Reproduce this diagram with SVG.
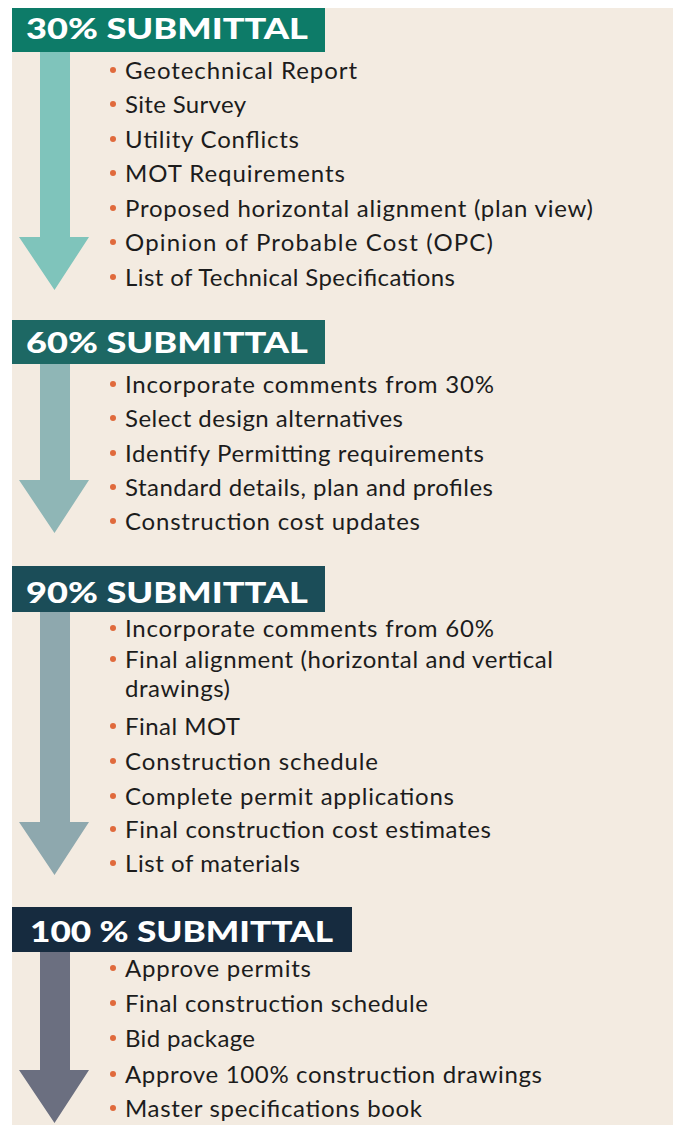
<svg xmlns="http://www.w3.org/2000/svg" width="673" height="1125" viewBox="0 0 673 1125">
<style>
.hd{font-family:"Lato","Open Sans","DejaVu Sans",sans-serif;font-weight:900;font-size:28px;fill:#ffffff}
.it{font-family:"Lato","Open Sans","DejaVu Sans",sans-serif;font-size:24px;fill:#1c1c1c}
.b{fill:#e06a3c}
</style>
<rect x="0" y="0" width="673" height="1125" fill="#ffffff"/>
<rect x="12" y="8" width="661" height="1117" fill="#f3ebe1"/>
<g id="connectors">
<path d="M40,52 H70 V237 H89 L54.5,290 L19,237 H40 Z" fill="#7fc4bb"/>
<path d="M40,364 H70 V480 H89 L54.5,533 L19,480 H40 Z" fill="#8fb6b6"/>
<path d="M40,612 H70 V822 H89 L54.5,875 L19,822 H40 Z" fill="#8ea8ae"/>
<path d="M40,952 H70 V1070 H89 L54.5,1123 L19,1070 H40 Z" fill="#6b6f80"/>
</g>
<g id="s30">
<rect x="12" y="8" width="313" height="44" fill="#0d7b68"/>
<text class="hd" x="26" y="39" textLength="282" lengthAdjust="spacingAndGlyphs">30% SUBMITTAL</text>
<g class="b"><circle cx="113" cy="70" r="3"/><circle cx="113" cy="104" r="3"/><circle cx="113" cy="139" r="3"/><circle cx="113" cy="173" r="3"/><circle cx="113" cy="208" r="3"/><circle cx="113" cy="242" r="3"/><circle cx="113" cy="277" r="3"/></g>
<text class="it" x="125" y="79" textLength="232">Geotechnical Report</text>
<text class="it" x="125" y="113" textLength="121">Site Survey</text>
<text class="it" x="125" y="148" textLength="174">Utility Conflicts</text>
<text class="it" x="125" y="182" textLength="220">MOT Requirements</text>
<text class="it" x="125" y="217" textLength="468">Proposed horizontal alignment (plan view)</text>
<text class="it" x="125" y="251" textLength="368">Opinion of Probable Cost (OPC)</text>
<text class="it" x="125" y="286" textLength="330">List of Technical Specifications</text>
</g>
<g id="s60">
<rect x="12" y="320" width="313" height="44" fill="#1d6864"/>
<text class="hd" x="26" y="353" textLength="282" lengthAdjust="spacingAndGlyphs">60% SUBMITTAL</text>
<g class="b"><circle cx="113" cy="384" r="3"/><circle cx="113" cy="418" r="3"/><circle cx="113" cy="453" r="3"/><circle cx="113" cy="487" r="3"/><circle cx="113" cy="521" r="3"/></g>
<text class="it" x="125" y="393" textLength="369">Incorporate comments from 30%</text>
<text class="it" x="125" y="427" textLength="278">Select design alternatives</text>
<text class="it" x="125" y="462" textLength="359">Identify Permitting requirements</text>
<text class="it" x="125" y="496" textLength="368">Standard details, plan and profiles</text>
<text class="it" x="125" y="530" textLength="295">Construction cost updates</text>
</g>
<g id="s90">
<rect x="12" y="566" width="313" height="46" fill="#1b4d58"/>
<text class="hd" x="26" y="603" textLength="282" lengthAdjust="spacingAndGlyphs">90% SUBMITTAL</text>
<g class="b"><circle cx="113" cy="628" r="3"/><circle cx="113" cy="659" r="3"/><circle cx="113" cy="726" r="3"/><circle cx="113" cy="761" r="3"/><circle cx="113" cy="796" r="3"/><circle cx="113" cy="829" r="3"/><circle cx="113" cy="863" r="3"/></g>
<text class="it" x="125" y="637" textLength="369">Incorporate comments from 60%</text>
<text class="it" x="125" y="668" textLength="428">Final alignment (horizontal and vertical</text>
<text class="it" x="125" y="697" textLength="105">drawings)</text>
<text class="it" x="125" y="735" textLength="115">Final MOT</text>
<text class="it" x="125" y="770" textLength="253">Construction schedule</text>
<text class="it" x="125" y="805" textLength="329">Complete permit applications</text>
<text class="it" x="125" y="838" textLength="366">Final construction cost estimates</text>
<text class="it" x="125" y="872" textLength="175">List of materials</text>
</g>
<g id="s100">
<rect x="12" y="907" width="340" height="45" fill="#162b3f"/>
<text class="hd" x="30" y="942" textLength="303" lengthAdjust="spacingAndGlyphs">100 % SUBMITTAL</text>
<g class="b"><circle cx="113" cy="968" r="3"/><circle cx="113" cy="1003" r="3"/><circle cx="113" cy="1038" r="3"/><circle cx="113" cy="1074" r="3"/><circle cx="113" cy="1108" r="3"/></g>
<text class="it" x="125" y="977" textLength="186">Approve permits</text>
<text class="it" x="125" y="1012" textLength="303">Final construction schedule</text>
<text class="it" x="125" y="1047" textLength="130">Bid package</text>
<text class="it" x="125" y="1083" textLength="417">Approve 100% construction drawings</text>
<text class="it" x="125" y="1117" textLength="297">Master specifications book</text>
</g>
</svg>
